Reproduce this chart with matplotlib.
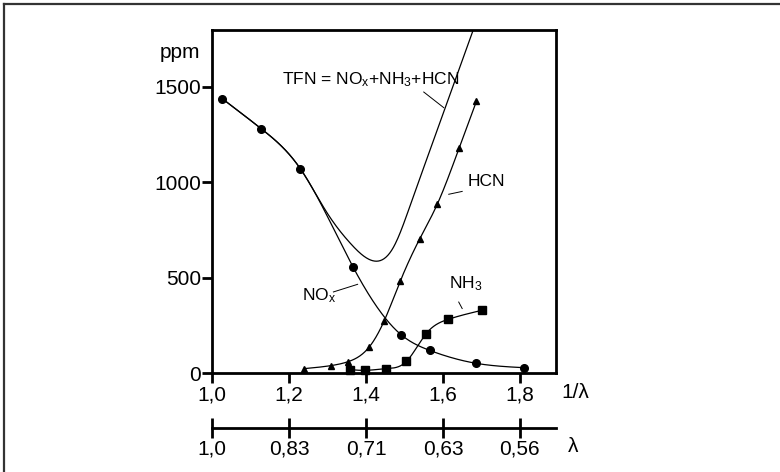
import numpy as np
import matplotlib
matplotlib.use("Agg")
import matplotlib.pyplot as plt
from matplotlib.lines import Line2D

plt.rcParams['font.family'] = ['Liberation Sans', 'DejaVu Sans']
plt.rcParams['mathtext.default'] = 'regular'

# values (x = 1/lambda, y = ppm)
nox_x = [1.026, 1.127, 1.229, 1.366, 1.491, 1.565, 1.686, 1.810]
nox_y = [1438, 1281, 1071, 556, 201, 119, 51, 28]

hcn_x = [1.239, 1.309, 1.354, 1.408, 1.447, 1.489, 1.539, 1.585, 1.642, 1.687]
hcn_y = [23, 39, 60, 136, 273, 482, 701, 884, 1179, 1424]

nh3_x = [1.357, 1.398, 1.452, 1.505, 1.556, 1.613, 1.702]
nh3_y = [18, 14, 23, 61, 206, 281, 329]

tfn_x = [1.026, 1.127, 1.229, 1.30, 1.36, 1.415, 1.47, 1.515, 1.554, 1.602, 1.679]
tfn_y = [1438, 1281, 1071, 835, 678, 590, 655, 880, 1100, 1368, 1800]

inv_ticks = [1.0, 1.2, 1.4, 1.6, 1.8]
inv_labels = ['1,0', '1,2', '1,4', '1,6', '1,8']
lam_labels = ['1,0', '0,83', '0,71', '0,63', '0,56']
y_ticks = [0, 500, 1000, 1500]


def spline(x, y, n=400):
    # natural cubic spline through the read points, only for drawing
    x = np.asarray(x, float)
    y = np.asarray(y, float)
    N = len(x)
    h = np.diff(x)
    A = np.zeros((N, N))
    r = np.zeros(N)
    A[0, 0] = A[-1, -1] = 1
    for i in range(1, N - 1):
        A[i, i - 1] = h[i - 1]
        A[i, i] = 2 * (h[i - 1] + h[i])
        A[i, i + 1] = h[i]
        r[i] = 6 * ((y[i + 1] - y[i]) / h[i] - (y[i] - y[i - 1]) / h[i - 1])
    M = np.linalg.solve(A, r)
    xs = np.linspace(x[0], x[-1], n)
    i = np.clip(np.searchsorted(x, xs) - 1, 0, N - 2)
    a = x[i + 1] - xs
    b = xs - x[i]
    ys = (M[i] * a**3 + M[i + 1] * b**3) / (6 * h[i]) \
        + (y[i] / h[i] - M[i] * h[i] / 6) * a \
        + (y[i + 1] / h[i] - M[i + 1] * h[i] / 6) * b
    return xs, ys


fig = plt.figure(figsize=(7.8, 4.72), dpi=100)
ax = fig.add_axes([0.2722, 0.2097, 0.4406, 0.7267])

lw = 0.9
for xs, ys, mk, ms in [(nox_x, nox_y, 'o', 5.5), (hcn_x, hcn_y, '^', 4.5),
                        (nh3_x, nh3_y, 's', 5.5)]:
    sx, sy = spline(xs, ys)
    ax.plot(sx, sy, color='black', lw=lw)
    ax.plot(xs, ys, mk, color='black', ms=ms, clip_on=False)

sx, sy = spline(tfn_x, tfn_y)
ax.plot(sx, sy, color='black', lw=lw)

ax.set_xlim(1.0, 1.894)
ax.set_ylim(0, 1798)
ax.set_xticks(inv_ticks)
ax.set_xticklabels(inv_labels)
ax.set_yticks(y_ticks)
for s in ax.spines.values():
    s.set_linewidth(2.0)
ax.tick_params(axis='both', direction='out', length=7, width=2,
               labelsize=15, pad=1)
ax.tick_params(axis='x', pad=2)

# labels
ax.text(-0.035, 1681, 'ppm', transform=ax.get_yaxis_transform(),
        ha='right', va='center', fontsize=15)
ax.text(1.015, -0.058, '1/λ', transform=ax.transAxes,
        ha='left', va='center', fontsize=15)

ax.text(1.413, 1538, 'TFN = NO$_x$+NH$_3$+HCN', ha='center', va='center',
        fontsize=12.5)
ax.plot([1.550, 1.602], [1473, 1391], color='black', lw=0.7)
ax.text(1.665, 1006, 'HCN', ha='left', va='center', fontsize=12.5)
ax.plot([1.615, 1.650], [937, 952], color='black', lw=0.7)
ax.text(1.233, 407, 'NO$_x$', ha='left', va='center', fontsize=12.5)
ax.plot([1.315, 1.378], [425, 465], color='black', lw=0.7)
ax.text(1.615, 469, 'NH$_3$', ha='left', va='center', fontsize=12.5)
ax.plot([1.641, 1.650], [372, 338], color='black', lw=0.7)

# lambda scale below
ax2 = fig.add_axes([0.2722, 0.0932, 0.4406, 0.0001])
ax2.set_xlim(1.0, 1.894)
ax2.set_yticks([])
for k in ['top', 'left', 'right']:
    ax2.spines[k].set_visible(False)
ax2.spines['bottom'].set_linewidth(2.0)
ax2.set_xticks(inv_ticks)
ax2.set_xticklabels(lam_labels)
ax2.tick_params(axis='x', direction='inout', length=15, width=2,
                labelsize=15, pad=1)
fig.text(568 / 780, (472 - 447) / 472, 'λ', ha='left', va='center', fontsize=15)

# frame lines at top and left of the picture
fig.add_artist(Line2D([4 / 780, 1.0], [1 - 4 / 472, 1 - 4 / 472],
                      transform=fig.transFigure, color='#333333', lw=1.6))
fig.add_artist(Line2D([4 / 780, 4 / 780], [0.0, 1 - 4 / 472],
                      transform=fig.transFigure, color='#333333', lw=1.6))

fig.savefig('out.png', dpi=100)
